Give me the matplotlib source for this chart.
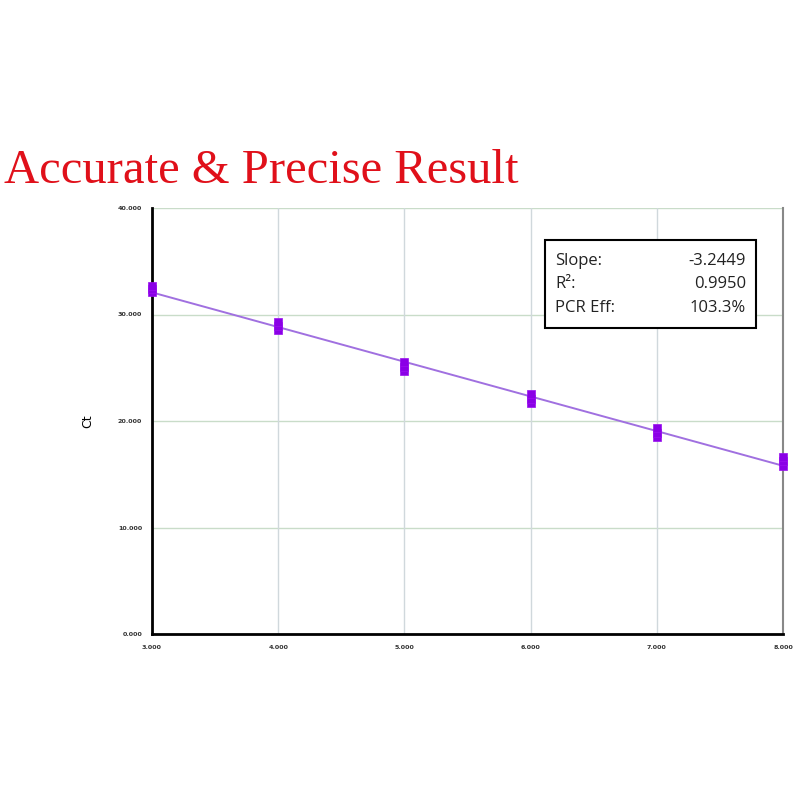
import numpy as np
import matplotlib
matplotlib.use("Agg")
import matplotlib.pyplot as plt
from matplotlib.patches import Rectangle

# Data: log quantity vs Ct replicates
log_qty = [3, 3, 3, 4, 4, 4, 5, 5, 5, 6, 6, 6, 7, 7, 7, 8, 8, 8]
ct_vals = [32.1, 32.4, 32.7, 28.5, 28.9, 29.3, 24.7, 25.1, 25.5,
           21.7, 22.1, 22.5, 18.5, 18.9, 19.3, 15.8, 16.2, 16.6]
xticks = [3, 4, 5, 6, 7, 8]
yticks = [0, 10, 20, 30, 40]
stats_labels = ["Slope:", "R\u00b2:", "PCR Eff:"]
stats_values = ["-3.2449", "0.9950", "103.3%"]
title = "Accurate & Precise Result"

fig = plt.figure(figsize=(8, 8), dpi=100)
ax = fig.add_axes([0.19, 0.2075, 0.789, 0.5325])

x = np.array(log_qty, dtype=float)
y = np.array(ct_vals, dtype=float)
m, b = np.polyfit(x, y, 1)
xl = np.array([3, 8], dtype=float)
ax.plot(xl, m * xl + b, color="#a070e0", lw=1.4, zorder=3)
ax.scatter(x, y, marker="s", s=30, color="#8a00e6", edgecolors="#9a10f0",
           linewidths=0.5, zorder=4, clip_on=False)

ax.set_xlim(3, 8)
ax.set_ylim(0, 40)
ax.set_xticks(xticks)
ax.set_yticks(yticks)
ax.set_xticklabels([f"{v:.3f}" for v in xticks], fontsize=4.6, fontweight="bold",
                   color="#333333")
ax.set_yticklabels([f"{v:.3f}" for v in yticks], fontsize=4.6, fontweight="bold",
                   color="#333333")
ax.tick_params(length=0, pad=8)
ax.tick_params(axis="y", pad=7)

for v in yticks:
    ax.axhline(v, color="#c9dcc9", lw=1, zorder=1)
for v in xticks:
    ax.axvline(v, color="#d0d8dc", lw=1, zorder=1)

ax.spines["top"].set_visible(False)
ax.spines["left"].set_linewidth(2)
ax.spines["left"].set_color("black")
ax.spines["bottom"].set_linewidth(2)
ax.spines["bottom"].set_color("black")
ax.spines["right"].set_color("#888888")
ax.spines["right"].set_linewidth(1.5)

ax.set_ylabel("Ct", fontsize=9, labelpad=17)

# stats box
box_l, box_b, box_w, box_h = 0.623, 0.718, 0.334, 0.207
ax.add_patch(Rectangle((box_l, box_b), box_w, box_h, transform=ax.transAxes,
                       facecolor="white", edgecolor="black", lw=1.5, zorder=5))
rows_y = [0.866, 0.812, 0.756]
for yy, lab, val in zip(rows_y, stats_labels, stats_values):
    ax.text(box_l + 0.016, yy, lab, transform=ax.transAxes, fontsize=12,
            family="Open Sans", va="baseline", ha="left", zorder=6, color="#222222")
    ax.text(box_l + box_w - 0.016, yy, val, transform=ax.transAxes, fontsize=12,
            family="Open Sans", va="baseline", ha="right", zorder=6, color="#222222")

fig.text(0.005, 0.786, title, fontsize=35, family="Liberation Serif",
         color="#e0101a", ha="left", va="center")

fig.savefig("out.png", dpi=100)
